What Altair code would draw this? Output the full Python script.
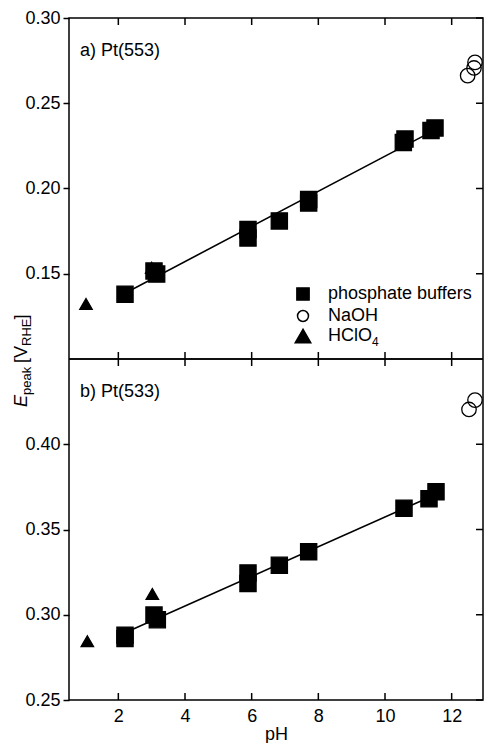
import altair as alt
import pandas as pd

FONT = "Liberation Sans"

# ---------------- data ----------------
series_names = ["phosphate buffers", "NaOH", "HClO"]
series_shapes = ["square", "circle", "triangle-up"]
series_fills = ["black", "transparent", "black"]

# panel a) Pt(553)
a_phos_pH = [2.2, 3.07, 3.15, 5.89, 5.89, 6.83, 7.71, 7.71, 10.55, 10.6, 11.38, 11.5]
a_phos_E = [0.138, 0.1516, 0.1498, 0.176, 0.171, 0.181, 0.1915, 0.1935, 0.227, 0.229, 0.234, 0.2355]
a_naoh_pH = [12.48, 12.67, 12.70]
a_naoh_E = [0.2662, 0.2707, 0.274]
a_hclo4_pH = [1.03, 3.0]
a_hclo4_E = [0.1323, 0.1535]
a_fit_pH = [2.2, 11.5]
a_fit_E = [0.1386, 0.2344]

# panel b) Pt(533)
b_phos_pH = [2.2, 2.2, 3.07, 3.17, 5.89, 5.89, 6.83, 7.71, 10.57, 11.32, 11.53]
b_phos_E = [0.288, 0.286, 0.2998, 0.2971, 0.3245, 0.3183, 0.329, 0.337, 0.3625, 0.368, 0.3722]
b_naoh_pH = [12.52, 12.70]
b_naoh_E = [0.4204, 0.4259]
b_hclo4_pH = [1.07, 3.02]
b_hclo4_E = [0.2845, 0.3122]
b_fit_pH = [2.2, 11.5]
b_fit_E = [0.2894, 0.3704]

panel_labels = ["a) Pt(553)", "b) Pt(533)"]
x_ticks = [2, 4, 6, 8, 10, 12]
a_y_ticks = [0.15, 0.20, 0.25, 0.30]
b_y_ticks = [0.25, 0.30, 0.35, 0.40]
x_domain = [0.52, 12.94]
a_y_domain = [0.10, 0.30]
b_y_domain = [0.25, 0.45]

W, H = 414, 341          # one panel; the two panels are stacked in one view
TICK = 7
SIZES = [262, 155, 430]
PAD = {"left": 61, "top": 10, "right": 1, "bottom": 43}


def points_df(phos_pH, phos_E, naoh_pH, naoh_E, hclo_pH, hclo_E):
    rows = []
    for p, e in zip(hclo_pH, hclo_E):
        rows.append({"pH": p, "E": e, "series": series_names[2]})
    for p, e in zip(phos_pH, phos_E):
        rows.append({"pH": p, "E": e, "series": series_names[0]})
    for p, e in zip(naoh_pH, naoh_E):
        rows.append({"pH": p, "E": e, "series": series_names[1]})
    return pd.DataFrame(rows)


def txt(s, x, y, size=18, style="normal", angle=0, baseline="middle"):
    kw = dict(align="left", baseline=baseline, fontSize=size, fontStyle=style,
              font=FONT, color="black")
    if angle:
        kw["angle"] = angle
    return alt.Chart(pd.DataFrame({"t": [s]})).mark_text(**kw).encode(
        x=alt.value(x), y=alt.value(y), text="t:N")


xaxis = alt.Axis(values=x_ticks, ticks=False, domain=False, grid=False,
                 labelFontSize=18, labelFont=FONT, labelColor="black",
                 labelPadding=7, labelFlush=False, title="pH",
                 titleFontSize=18, titleFont=FONT, titleFontWeight="normal",
                 titleColor="black", titlePadding=0)
X = alt.X("pH:Q", scale=alt.Scale(domain=x_domain, nice=False, zero=False), axis=xaxis)


def panel(pts, fit_pH, fit_E, ydom, yticks, label, y0, show_legend, ytitle):
    # y0: pixel offset of this panel's top edge inside the shared view
    Y = alt.Y("E:Q", scale=alt.Scale(domain=ydom, range=[y0 + H, y0], nice=False, zero=False),
              axis=alt.Axis(values=yticks, format=".2f", tickSize=6, tickWidth=1.5,
                            tickColor="black", domain=False, grid=False, orient="left",
                            labelFontSize=18, labelFont=FONT, labelColor="black",
                            labelPadding=3, title=None))

    fit = alt.Chart(pd.DataFrame({"pH": fit_pH, "E": fit_E})).mark_line(
        color="black", strokeWidth=1.6).encode(x=X, y=Y)

    pts_layer = alt.Chart(pts).mark_point(stroke="black", strokeWidth=1.3, opacity=1,
                                          fillOpacity=1).encode(
        x=X, y=Y,
        shape=alt.Shape("series:N", scale=alt.Scale(domain=series_names,
                        range=series_shapes), legend=None),
        fill=alt.Fill("series:N", scale=alt.Scale(domain=series_names,
                      range=series_fills), legend=None),
        size=alt.Size("series:N", scale=alt.Scale(domain=series_names,
                      range=SIZES), legend=None),
    )

    xt = pd.DataFrame({"pH": x_ticks})
    yt = pd.DataFrame({"E": yticks})
    top_ticks = alt.Chart(xt).mark_rule(color="black", strokeWidth=1.5).encode(
        x=X, y=alt.value(y0), y2=alt.value(y0 + TICK))
    bot_ticks = alt.Chart(xt).mark_rule(color="black", strokeWidth=1.5).encode(
        x=X, y=alt.value(y0 + H), y2=alt.value(y0 + H - TICK))
    right_ticks = alt.Chart(yt).mark_rule(color="black", strokeWidth=1.5).encode(
        y=Y, x=alt.value(W), x2=alt.value(W - TICK))
    left_dummy = alt.Chart(yt).mark_rule(opacity=0).encode(
        y=Y, x=alt.value(0), x2=alt.value(1))

    layers = [left_dummy, top_ticks, bot_ticks, right_ticks, fit, pts_layer,
              txt(label, 11, y0 + 33)]

    if show_legend:
        # legend key inside the upper panel
        rows_y = [276, 298, 318]
        leg_sizes = [150, 120, 240]
        for name, shp, fl, sz, yy in zip(series_names, series_shapes, series_fills,
                                         leg_sizes, rows_y):
            layers.append(
                alt.Chart(pd.DataFrame({"s": [name]})).mark_point(
                    shape=shp, fill=fl, stroke="black", strokeWidth=1.5, size=sz,
                    opacity=1, fillOpacity=1).encode(x=alt.value(234), y=alt.value(y0 + yy)))
            layers.append(txt(name, 259, y0 + yy))
        layers.append(txt("4", 303, y0 + rows_y[2] + 6, size=12))

    if ytitle:
        # composed axis title: E_peak [V_RHE], rotated
        pieces = [
            ("E", 18, "italic", 389, -42),
            ("peak", 13, "normal", 377, -38.5),
            ("[V", 18, "normal", 345, -42),
            ("RHE", 13, "normal", 328, -38.5),
            ("]", 18, "normal", 301.5, -42),
        ]
        for s, fs, st, yy, xx in pieces:
            layers.append(txt(s, xx, yy, size=fs, style=st, angle=270, baseline="alphabetic"))

    return alt.layer(*layers)


top = panel(points_df(a_phos_pH, a_phos_E, a_naoh_pH, a_naoh_E, a_hclo4_pH, a_hclo4_E),
            a_fit_pH, a_fit_E, a_y_domain, a_y_ticks, panel_labels[0], 0,
            show_legend=True, ytitle=True)
bottom = panel(points_df(b_phos_pH, b_phos_E, b_naoh_pH, b_naoh_E, b_hclo4_pH, b_hclo4_E),
               b_fit_pH, b_fit_E, b_y_domain, b_y_ticks, panel_labels[1], H,
               show_legend=False, ytitle=False)

divider = alt.Chart(pd.DataFrame({"pH": x_domain})).mark_rule(
    color="black", strokeWidth=1.5).encode(
    x=alt.value(0), x2=alt.value(W), y=alt.value(H))

chart = alt.layer(top, bottom, divider).resolve_scale(
    y="independent"
).resolve_axis(y="independent").properties(
    width=W, height=2 * H,
    autosize=alt.AutoSizeParams(type="none"),
    padding=PAD,
    background="white",
).configure_view(stroke="black", strokeWidth=1.5)

chart.save("out.html", embed_options={"renderer": "svg", "actions": False})
